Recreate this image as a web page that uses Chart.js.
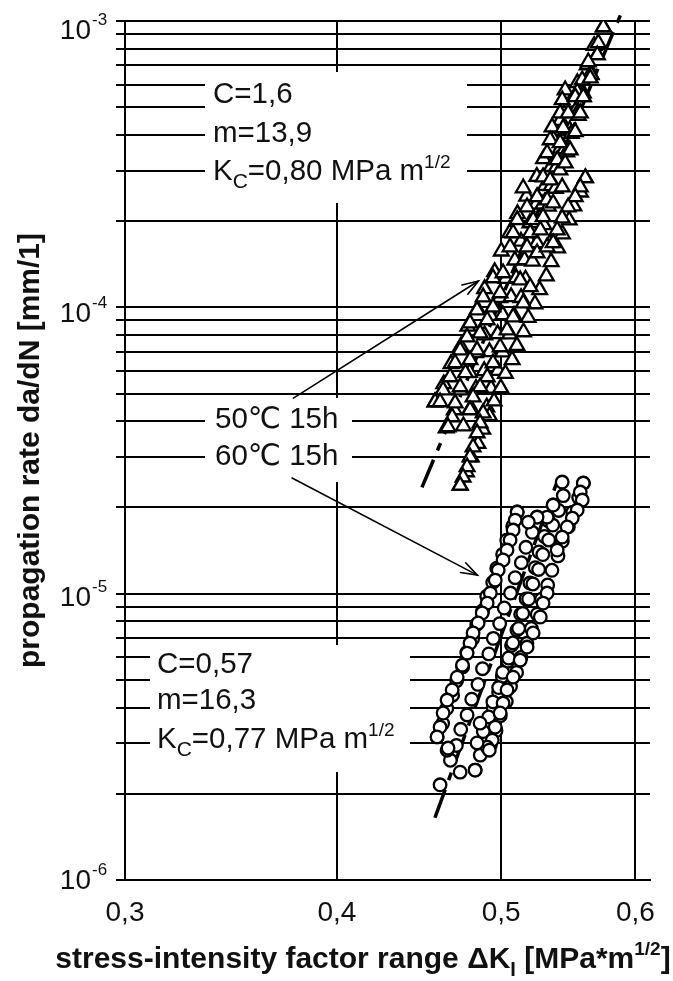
<!DOCTYPE html>
<html><head><meta charset="utf-8">
<script src="https://cdn.jsdelivr.net/npm/chart.js@4/dist/chart.umd.min.js"></script>
<style>html,body{margin:0;padding:0;background:#fff}canvas{display:block}</style>
</head><body>
<canvas id="c" width="673" height="981"></canvas>
<script>
// ---- axes / ticks ----
const xTicks = [0.3, 0.4, 0.5, 0.6];
const xTickLabels = ['0,3', '0,4', '0,5', '0,6'];
const yDecades = [1e-6, 1e-5, 1e-4, 1e-3];
const yDecadeExp = ['-6', '-5', '-4', '-3'];
const yMinorSteps = [1, 2, 3, 4, 5, 6, 7, 8, 9];

// ---- 50 °C 15h (triangles): [ΔK, da/dN] ----
const tri50A = [[0.457,4.67e-5],[0.4625,5.40e-5],[0.4671,6.35e-5],[0.4733,7.30e-5],[0.4779,8.58e-5],[0.4842,9.85e-5],[0.4889,1.16e-4],[0.4956,1.33e-4],[0.5001,1.57e-4],[0.5058,1.82e-4],[0.5112,2.12e-4],[0.5176,2.44e-4],[0.5248,2.86e-4],[0.5296,3.30e-4],[0.5369,3.86e-4],[0.5418,4.49e-4],[0.5493,5.20e-4],[0.5545,6.08e-4],[0.5620,7.02e-4],[0.5672,8.20e-4],[0.5745,9.52e-4]];
const tri50B = [[0.4640,3.79e-5],[0.4692,4.38e-5],[0.4731,5.14e-5],[0.4790,5.92e-5],[0.4829,6.93e-5],[0.4889,8.00e-5],[0.4929,9.35e-5],[0.4991,1.08e-4],[0.5032,1.26e-4],[0.5094,1.46e-4],[0.5136,1.70e-4],[0.5199,1.97e-4],[0.5243,2.29e-4],[0.5308,2.66e-4],[0.5351,3.10e-4],[0.5418,3.59e-4],[0.5462,4.18e-4],[0.5530,4.85e-4],[0.5575,5.64e-4],[0.5645,6.55e-4],[0.5697,7.61e-4]];
const tri50C = [[0.4750,3.85e-5],[0.4798,4.46e-5],[0.4832,5.20e-5],[0.4886,6.00e-5],[0.4921,6.99e-5],[0.4976,8.08e-5],[0.5011,9.41e-5],[0.5068,1.088e-4],[0.5103,1.267e-4],[0.5161,1.465e-4],[0.5197,1.704e-4],[0.5256,1.972e-4],[0.5292,2.295e-4],[0.5352,2.655e-4],[0.5389,3.088e-4],[0.5450,3.577e-4],[0.5488,4.157e-4],[0.5550,4.816e-4],[0.5590,5.595e-4],[0.5650,6.49e-4]];
const tri50D = [[0.4860,3.88e-5],[0.4903,4.48e-5],[0.4932,5.21e-5],[0.4979,6.01e-5],[0.5010,6.98e-5],[0.5058,8.06e-5],[0.5088,9.36e-5],[0.5137,1.080e-4],[0.5168,1.253e-4],[0.5217,1.448e-4],[0.5249,1.680e-4],[0.5299,1.940e-4],[0.5331,2.251e-4],[0.5382,2.600e-4],[0.5415,3.016e-4],[0.5466,3.486e-4],[0.5500,4.042e-4],[0.5552,4.672e-4],[0.5590,5.43e-4]];
const tri50E = [[0.4730,2.39e-5],[0.4770,2.66e-5],[0.4801,3.00e-5],[0.4845,3.34e-5],[0.4876,3.75e-5],[0.4921,4.18e-5],[0.4952,4.70e-5],[0.4997,5.23e-5],[0.5029,5.87e-5],[0.5075,6.55e-5],[0.5108,7.35e-5],[0.5154,8.20e-5],[0.5187,9.20e-5],[0.5235,1.027e-4],[0.5268,1.151e-4],[0.5316,1.286e-4],[0.5351,1.441e-4],[0.5399,1.610e-4],[0.5434,1.803e-4],[0.5484,2.015e-4],[0.5519,2.257e-4],[0.5569,2.523e-4],[0.5607,2.83e-4]];
const tri50Read = [[0.5744,9.53e-4],[0.5705,8.38e-4],[0.5697,7.61e-4],[0.5628,7.19e-4],[0.5582,6.22e-4],[0.5643,6.32e-4],[0.5454,5.74e-4],[0.5544,5.65e-4],[0.5432,5.30e-4],[0.5529,5.43e-4],[0.5590,5.43e-4],[0.5417,4.77e-4],[0.5476,4.77e-4],[0.5567,4.77e-4],[0.5358,4.26e-4],[0.5439,4.23e-4],[0.5529,4.10e-4],[0.5344,3.84e-4],[0.5417,3.75e-4],[0.5491,3.54e-4],[0.5322,3.46e-4],[0.5395,3.27e-4],[0.5454,3.19e-4],[0.5152,2.61e-4],[0.5293,2.85e-4],[0.5344,2.78e-4],[0.5432,2.63e-4],[0.5605,2.83e-4],[0.5567,2.63e-4],[0.5529,2.43e-4],[0.5250,2.43e-4],[0.5322,2.37e-4],[0.5366,2.31e-4],[0.5476,2.24e-4],[0.5179,2.24e-4],[0.5110,2.02e-4],[0.5222,2.02e-4],[0.5293,2.07e-4],[0.5432,2.05e-4],[0.5082,1.818e-4],[0.5201,1.818e-4],[0.5273,1.862e-4],[0.5395,1.862e-4],[0.5061,1.624e-4],[0.5179,1.624e-4],[0.5344,1.678e-4],[0.4945,1.266e-4],[0.5013,1.318e-4],[0.5131,1.245e-4],[0.5250,1.548e-4],[0.5322,1.624e-4],[0.5366,1.678e-4],[0.4879,1.086e-4],[0.4993,1.122e-4],[0.5201,1.178e-4],[0.4839,9.78e-5],[0.4945,1.002e-4],[0.5152,1.035e-4],[0.4793,8.81e-5],[0.4906,9.03e-5],[0.5082,9.25e-5],[0.4774,7.87e-5],[0.4859,8.13e-5],[0.5040,8.33e-5],[0.4729,7.09e-5],[0.4839,7.09e-5],[0.4993,7.27e-5],[0.4697,6.39e-5],[0.4793,6.55e-5],[0.4945,6.39e-5],[0.4665,5.71e-5],[0.4763,5.90e-5],[0.4906,5.71e-5],[0.4621,5.14e-5],[0.4729,5.27e-5],[0.4859,5.27e-5],[0.4571,4.67e-5],[0.4602,4.67e-5],[0.4697,4.63e-5],[0.4813,4.86e-5],[0.4678,4.14e-5],[0.4793,4.38e-5],[0.4652,3.82e-5],[0.4879,4.27e-5],[0.4859,3.94e-5],[0.4839,3.64e-5],[0.4813,3.25e-5],[0.4793,3.00e-5],[0.4774,2.77e-5],[0.4748,2.55e-5],[0.4729,2.39e-5]];

// ---- 60 °C 15h (circles) ----
const circ60P = [[0.4584,3.16e-6],[0.4618,3.52e-6],[0.4644,3.97e-6],[0.4681,4.42e-6],[0.4707,4.97e-6],[0.4745,5.55e-6],[0.4772,6.23e-6],[0.4810,6.96e-6],[0.4837,7.81e-6],[0.4876,8.72e-6],[0.4903,9.79e-6],[0.4943,1.094e-5],[0.4970,1.227e-5],[0.5010,1.372e-5],[0.5038,1.538e-5],[0.5079,1.720e-5],[0.5110,1.928e-5]];
const circ60Q = [[0.4667,2.62e-6],[0.4705,2.95e-6],[0.4733,3.36e-6],[0.4774,3.77e-6],[0.4804,4.28e-6],[0.4845,4.82e-6],[0.4875,5.47e-6],[0.4917,6.16e-6],[0.4947,6.98e-6],[0.4990,7.86e-6],[0.5021,8.91e-6],[0.5064,1.005e-5],[0.5096,1.137e-5],[0.5139,1.283e-5],[0.5171,1.452e-5],[0.5216,1.638e-5],[0.5251,1.852e-5]];
const circ60R = [[0.4827,2.42e-6],[0.4860,2.73e-6],[0.4885,3.12e-6],[0.4921,3.51e-6],[0.4946,4.00e-6],[0.4983,4.52e-6],[0.5008,5.14e-6],[0.5045,5.81e-6],[0.5071,6.60e-6],[0.5108,7.46e-6],[0.5134,8.48e-6],[0.5172,9.59e-6],[0.5199,1.089e-5],[0.5237,1.232e-5],[0.5264,1.399e-5],[0.5303,1.584e-5],[0.5330,1.798e-5],[0.5366,2.04e-5]];
const circ60S = [[0.4927,2.96e-6],[0.4965,3.32e-6],[0.4994,3.75e-6],[0.5035,4.20e-6],[0.5064,4.74e-6],[0.5106,5.31e-6],[0.5136,5.99e-6],[0.5178,6.71e-6],[0.5209,7.56e-6],[0.5251,8.48e-6],[0.5282,9.56e-6],[0.5326,1.072e-5],[0.5357,1.207e-5],[0.5401,1.355e-5],[0.5433,1.526e-5],[0.5478,1.713e-5],[0.5510,1.927e-5],[0.5555,2.165e-5],[0.5591,2.43e-5]];
const circ60U = [[0.4880,3.30e-6],[0.4916,3.71e-6],[0.4944,4.19e-6],[0.4983,4.70e-6],[0.5011,5.31e-6],[0.5051,5.96e-6],[0.5080,6.73e-6],[0.5120,7.56e-6],[0.5149,8.53e-6],[0.5190,9.58e-6],[0.5220,1.081e-5],[0.5261,1.215e-5],[0.5291,1.370e-5],[0.5333,1.540e-5],[0.5363,1.736e-5],[0.5406,1.953e-5],[0.5440,2.20e-5]];
const circ60Read = [[0.5432,2.454e-5],[0.5590,2.434e-5],[0.5567,2.264e-5],[0.5582,2.123e-5],[0.5544,1.959e-5],[0.5507,1.836e-5],[0.5469,1.709e-5],[0.5432,1.576e-5],[0.5395,1.420e-5],[0.5366,2.039e-5],[0.5322,1.851e-5],[0.5250,1.851e-5],[0.5188,1.778e-5],[0.5110,1.928e-5],[0.5096,1.807e-5],[0.5082,1.668e-5],[0.5061,1.539e-5],[0.5040,1.420e-5],[0.5013,1.311e-5],[0.4980,1.209e-5],[0.4960,1.115e-5],[0.4927,1.005e-5],[0.4906,9.27e-6],[0.4873,8.56e-6],[0.4846,7.90e-6],[0.4813,7.29e-6],[0.4793,6.72e-6],[0.4774,6.20e-6],[0.4744,5.63e-6],[0.4710,5.11e-6],[0.4678,4.61e-6],[0.4646,4.25e-6],[0.4621,3.83e-6],[0.4602,3.42e-6],[0.4583,3.16e-6],[0.4646,2.84e-6],[0.4729,2.38e-6],[0.4826,2.42e-6],[0.4602,2.15e-6],[0.5322,1.005e-5],[0.5293,9.27e-6],[0.5273,8.29e-6],[0.5222,7.29e-6],[0.5179,6.51e-6],[0.5131,5.86e-6],[0.5082,5.11e-6],[0.5040,4.61e-6],[0.5013,4.15e-6],[0.4993,3.83e-6],[0.4960,3.42e-6],[0.4940,3.08e-6],[0.4906,2.91e-6],[0.4839,3.01e-6],[0.4859,3.53e-6],[0.4652,2.89e-6],[0.4920,2.84e-6]];

// ---- fitted lines (end points) ----
const fit50 = [[0.449,2.35e-5],[0.588,1.05e-3]];
const fit60 = [[0.457,1.65e-6],[0.540,2.5e-5]];

// ---- annotations ----
const arrows = [
  {from:[0.3771,4.82e-5], to:[0.4848,1.236e-4]},
  {from:[0.3764,2.534e-5], to:[0.4841,1.161e-5]}
];
const labelTop = [[['C=1,6','']],[['m=13,9','']],[['K',''],['C','sub'],['=0,80 MPa m',''],['1/2','sup']]];
const labelMid = [[['50℃ 15h','']],[['60℃ 15h','']]];
const labelLow = [[['C=0,57','']],[['m=16,3','']],[['K',''],['C','sub'],['=0,77 MPa m',''],['1/2','sup']]];
const xTitle = [['stress-intensity factor range ΔK',''],['I','sub'],[' [MPa*m',''],['1/2','sup'],[']','']];
const yTitle = 'propagation rate da/dN [mm/1]';

const toXY = arr => arr.map(p => ({x:p[0], y:p[1]}));
const FAM = "'Liberation Sans', Arial, Helvetica, 'DejaVu Sans', 'Noto Sans CJK SC', sans-serif";

function drawRich(ctx, parts, x, y, size, weight, align, subR, supR){
  const sub = Math.round(size*(subR||0.68)), sup = Math.round(size*(supR||0.62));
  const setF = k => { ctx.font = weight + ' ' + (k==='sub'?sub:(k==='sup'?sup:size)) + 'px ' + FAM; };
  let w = 0;
  for (const [t,k] of parts){ setF(k); w += ctx.measureText(t).width; }
  let cx = align==='center' ? x - w/2 : (align==='right' ? x - w : x);
  ctx.textAlign = 'left'; ctx.textBaseline = 'alphabetic';
  for (const [t,k] of parts){
    setF(k);
    const dy = k==='sub' ? size*0.27 : (k==='sup' ? -size*0.42 : 0);
    ctx.fillText(t, cx, y+dy);
    cx += ctx.measureText(t).width;
  }
}

const annoPlugin = {
  id:'anno',
  beforeDatasetsDraw(chart){
    const ctx = chart.ctx;
    ctx.save();
    ctx.fillStyle = '#fff';
    // white boxes behind the annotation texts (they interrupt the grid)
    ctx.fillRect(205, 72, 262, 131);
    ctx.fillRect(205, 398, 147, 84);
    ctx.fillRect(150, 645, 260, 127);
    ctx.fillStyle = '#111';
    const tb = [103, 142, 180];
    labelTop.forEach((l,i) => drawRich(ctx, l, 213, tb[i], 29.5, 'normal', 'left', 0.72, 0.64));
    const mb = [428, 465];
    labelMid.forEach((l,i) => drawRich(ctx, l, 215, mb[i], 29.5, 'normal', 'left'));
    const lb = [673, 709, 748];
    labelLow.forEach((l,i) => drawRich(ctx, l, 157, lb[i], 29.5, 'normal', 'left', 0.72, 0.64));
    ctx.restore();
  },
  afterDatasetsDraw(chart){
    const ctx = chart.ctx, xs = chart.scales.x, ys = chart.scales.y;
    ctx.save();
    ctx.strokeStyle = '#000'; ctx.lineWidth = 1.6; ctx.lineCap = 'round';
    for (const a of arrows){
      const x0 = xs.getPixelForValue(a.from[0]), y0 = ys.getPixelForValue(a.from[1]);
      const x1 = xs.getPixelForValue(a.to[0]), y1 = ys.getPixelForValue(a.to[1]);
      const ang = Math.atan2(y1-y0, x1-x0), L = 17, h = 0.33;
      ctx.beginPath(); ctx.moveTo(x0,y0); ctx.lineTo(x1,y1); ctx.stroke();
      ctx.beginPath();
      ctx.moveTo(x1 - L*Math.cos(ang-h), y1 - L*Math.sin(ang-h));
      ctx.lineTo(x1, y1);
      ctx.lineTo(x1 - L*Math.cos(ang+h), y1 - L*Math.sin(ang+h));
      ctx.stroke();
    }
    ctx.restore();
  },
  afterDraw(chart){
    const ctx = chart.ctx, xs = chart.scales.x, ys = chart.scales.y;
    ctx.save();
    ctx.fillStyle = '#111';
    // x tick labels
    ctx.font = 'normal 28px ' + FAM; ctx.textAlign = 'center'; ctx.textBaseline = 'alphabetic';
    xTicks.forEach((v,i) => ctx.fillText(xTickLabels[i], xs.getPixelForValue(v), 921));
    // y tick labels 10^n
    yDecades.forEach((v,i) => {
      const py = ys.getPixelForValue(v);
      const base = py + 9 + 3*i;
      ctx.font = 'normal 28px ' + FAM; ctx.textAlign = 'right';
      ctx.fillText('10', 91, base);
      ctx.font = 'normal 17px ' + FAM; ctx.textAlign = 'left';
      ctx.fillText(yDecadeExp[i], 92, base - 14);
    });
    // axis titles
    drawRich(ctx, xTitle, 363, 968, 30, 'bold', 'center');
    ctx.translate(39, (chart.chartArea.top + chart.chartArea.bottom)/2);
    ctx.rotate(-Math.PI/2);
    ctx.font = 'bold 30px ' + FAM; ctx.textAlign = 'center'; ctx.textBaseline = 'alphabetic';
    ctx.fillText(yTitle, 0, 0);
    ctx.restore();
  }
};

const triData = [].concat(tri50A, tri50B, tri50C, tri50D, tri50E, tri50Read);
const circData = [].concat(circ60P, circ60Q, circ60R, circ60S, circ60U, circ60Read);

new Chart(document.getElementById('c'), {
  type: 'scatter',
  data: {
    datasets: [
      {label:'fit 50', data: toXY(fit50), showLine:true, borderColor:'#000', borderWidth:3.5,
       borderDash:[30,10,8,10], pointRadius:0, order:10, clip:false},
      {label:'fit 60', data: toXY(fit60), showLine:true, borderColor:'#000', borderWidth:3.5,
       borderDash:[30,10,8,10], pointRadius:0, order:10, clip:false},
      {label:'50℃ 15h', data: toXY(triData), pointStyle:'triangle', pointRadius:8.5,
       borderColor:'#000', backgroundColor:'#fff', borderWidth:2.3, order:1},
      {label:'60℃ 15h', data: toXY(circData), pointStyle:'circle', pointRadius:6.3,
       borderColor:'#000', backgroundColor:'#fff', borderWidth:2.3, order:0}
    ]
  },
  options: {
    responsive:false, animation:false, devicePixelRatio:1,
    layout:{padding:{left:0, right:23, top:21, bottom:0}},
    plugins:{legend:{display:false}, tooltip:{enabled:false}},
    scales:{
      x:{type:'logarithmic', min:0.3, max:0.612,
         afterBuildTicks: s => { s.ticks = xTicks.map(v => ({value:v})); },
         afterFit: s => { s.height = 101; },
         ticks:{display:false},
         grid:{color:'#000', lineWidth:2, drawTicks:false},
         border:{color:'#000', width:2}},
      y:{type:'logarithmic', min:1e-6, max:1e-3,
         afterBuildTicks: s => {
           const t = [];
           yDecades.forEach(d => yMinorSteps.forEach(m => { const v = d*m; if (v <= 1.0001e-3) t.push({value:v}); }));
           s.ticks = t;
         },
         afterFit: s => { s.width = 125; },
         ticks:{display:false},
         grid:{color:'#000', lineWidth:2, drawTicks:true, tickLength:9},
         border:{color:'#000', width:2}}
    }
  },
  plugins:[annoPlugin]
});
</script>
</body></html>
